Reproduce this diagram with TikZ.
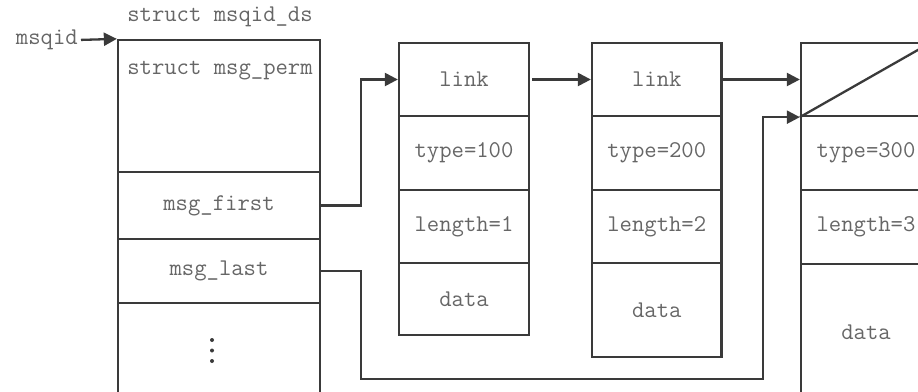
\documentclass[tikz,border=0pt]{standalone}
\usetikzlibrary{arrows.meta}
\definecolor{ln}{HTML}{3A3A3A}
\definecolor{tx}{HTML}{666666}
\begin{document}
\begin{tikzpicture}[x=1pt,y=-1pt,
 cell/.style={draw=ln,line width=2.3pt,minimum width=130pt,inner sep=0pt,font=\fontsize{24}{28}\selectfont\ttfamily,text=tx},
 lbl/.style={font=\fontsize{24}{28}\selectfont\ttfamily,text=tx,inner sep=0pt},
 arr/.style={draw=ln,line width=2.3pt,-{Triangle[length=13pt,width=13pt]}},
 wire/.style={draw=ln,line width=2.3pt}]
\useasboundingbox (0,0) rectangle (918,391);
\begin{scope}
\clip (0,0) rectangle (918,391);
% struct msqid_ds
\node[lbl] (dslbl) at (220,17) {struct msqid\_ds};
\node[cell,minimum width=202pt,minimum height=132pt] (perm) at (219,106) {};
\node[lbl] (permlbl) at (220,71) {struct msg\_perm};
\node[cell,minimum width=202pt,minimum height=67pt] (first) at (219,205.5) {msg\_first};
\node[cell,minimum width=202pt,minimum height=64pt] (last) at (219,271) {msg\_last};
\node[cell,minimum width=202pt,minimum height=127pt] (rest) at (219,366.5) {};
\fill[ln] (212,340) circle (2pt) (212,350.5) circle (2pt) (212,361) circle (2pt);
\node[lbl,anchor=east] (msqid) at (78,40) {msqid};
% message 1
\node[cell,minimum height=73pt] (link1) at (464,79.5) {link};
\node[cell,minimum height=74pt] (type1) at (464,153) {type=100};
\node[cell,minimum height=73pt] (len1) at (464,226.5) {length=1};
\node[cell,minimum height=72pt] (data1) at (464,299) {data};
% message 2
\node[cell,minimum width=129.5pt,minimum height=73pt] (link2) at (656.75,79.5) {link};
\node[cell,minimum width=129.5pt,minimum height=74pt] (type2) at (656.75,153) {type=200};
\node[cell,minimum width=129.5pt,minimum height=73pt] (len2) at (656.75,226.5) {length=2};
\node[cell,minimum width=129.5pt,minimum height=94pt] (data2) at (656.75,310) {data};
% message 3
\node[cell,minimum height=73pt] (link3) at (866,79.5) {};
\node[cell,minimum height=74pt] (type3) at (866,153) {type=300};
\node[cell,minimum height=74pt] (len3) at (866,227) {length=3};
\node[cell,minimum height=136pt] (data3) at (866,332) {data};
\draw[wire] (link3.south west) -- (link3.north east);
% connectors
\coordinate (bend) at (763,379);
\draw[arr,shorten <=3pt] (msqid.east) -- (perm.north west);
\draw[arr] (first.east) -- ++(40,0) |- (link1.west);
\draw[arr,shorten <=2pt] (link1.east) -- (link2.west);
\draw[arr] (link2.east) -- (link3.west);
\draw[arr] (last.east) -- ++(40,0) |- (bend) |- (link3.south west);
\end{scope}
\end{tikzpicture}
\end{document}
